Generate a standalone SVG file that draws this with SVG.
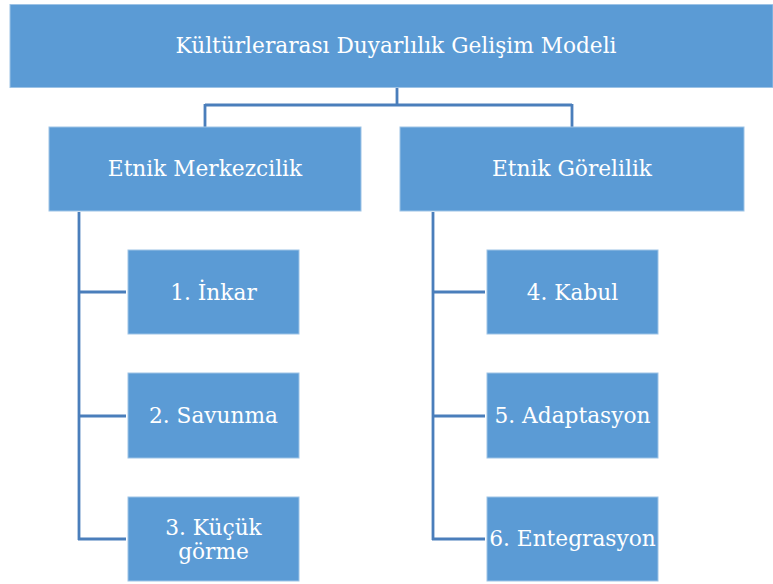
<svg xmlns="http://www.w3.org/2000/svg" width="773" height="584" viewBox="0 0 773 584">
<style>
.box{fill:#5B9BD5;stroke:#9DC3E6;stroke-width:1}
.t{fill:#ffffff;font-family:"DejaVu Serif","Liberation Serif",serif;text-anchor:middle;font-size:21.7px}
.conn{fill:none;stroke:#4A7EBB;stroke-width:2.8}
</style>
<rect width="773" height="584" fill="#ffffff"/>
<g id="connectors" class="conn">
<path d="M397,88 V105 M205,105 H572 M205,104 V127 M572,104 V127"/>
<path d="M79,212 V540 M78,292 H126 M78,416 H126 M78,539 H126"/>
<path d="M433,212 V540 M432,292 H485 M432,416 H485 M432,539 H485"/>
</g>
<g id="root"><rect class="box" x="10" y="4.5" width="763" height="83"/><text class="t" x="396" y="53">Kültürlerarası Duyarlılık Gelişim Modeli</text></g>
<g id="etnik-merkezcilik"><rect class="box" x="49" y="127" width="312" height="84"/><text class="t" x="205" y="176">Etnik Merkezcilik</text></g>
<g id="etnik-gorelilik"><rect class="box" x="400" y="127" width="344" height="84"/><text class="t" x="572" y="176">Etnik Görelilik</text></g>
<g id="inkar"><rect class="box" x="128" y="250" width="171" height="84"/><text class="t" x="213.5" y="300">1. İnkar</text></g>
<g id="savunma"><rect class="box" x="128" y="373" width="171" height="85"/><text class="t" x="213.5" y="423">2. Savunma</text></g>
<g id="kucuk-gorme"><rect class="box" x="128" y="497" width="171" height="84"/><text class="t" x="213.5" y="535">3. Küçük</text><text class="t" x="213.5" y="559">görme</text></g>
<g id="kabul"><rect class="box" x="487" y="250" width="171" height="84"/><text class="t" x="572.5" y="300">4. Kabul</text></g>
<g id="adaptasyon"><rect class="box" x="487" y="373" width="171" height="85"/><text class="t" x="572.5" y="423">5. Adaptasyon</text></g>
<g id="entegrasyon"><rect class="box" x="487" y="497" width="171" height="84"/><text class="t" x="572.5" y="546">6. Entegrasyon</text></g>
</svg>
